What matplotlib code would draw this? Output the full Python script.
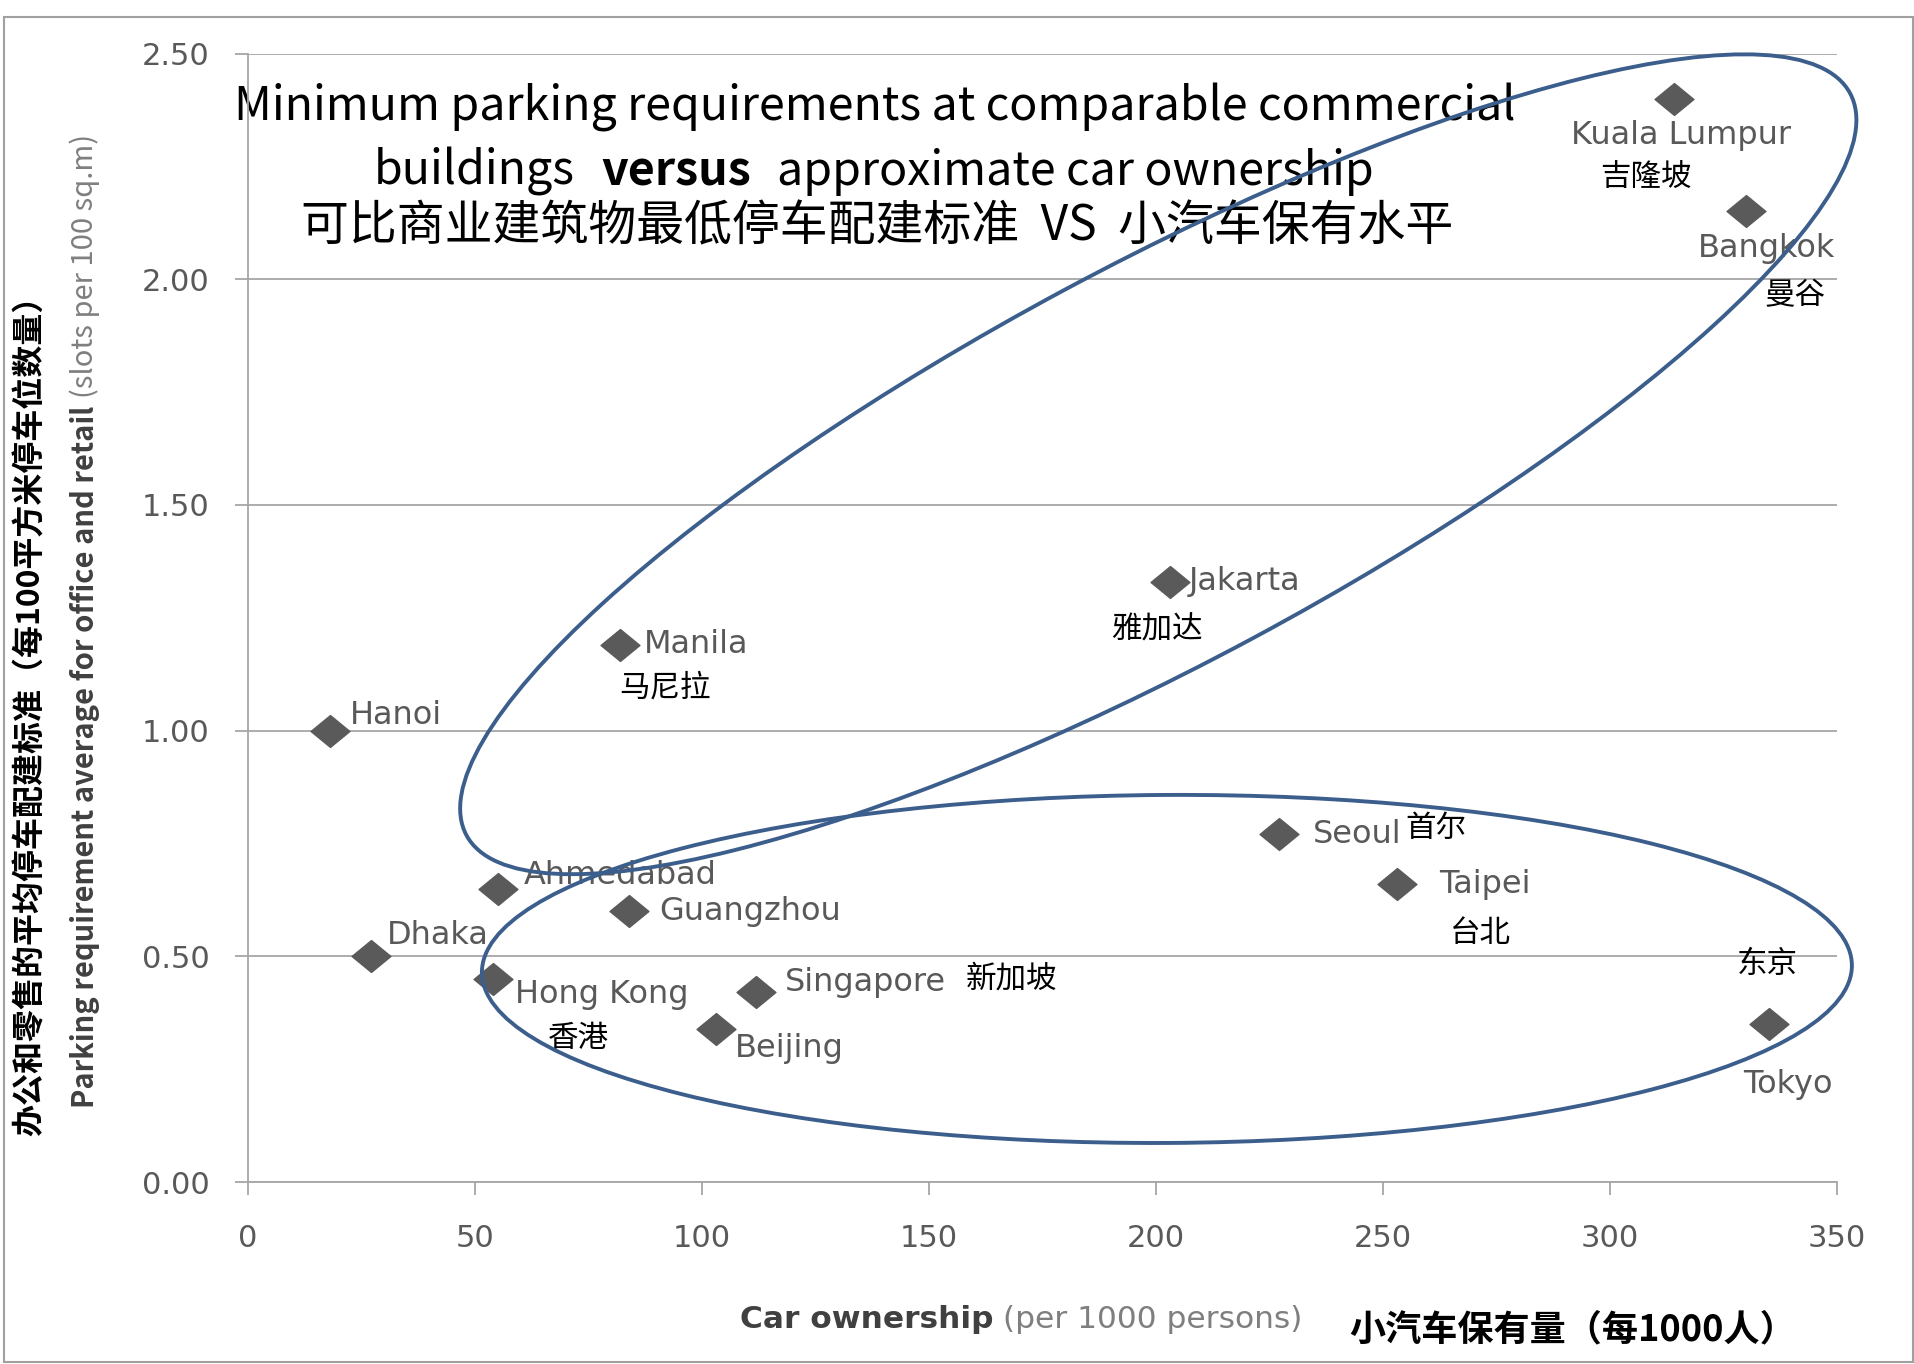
import matplotlib
matplotlib.use('Agg')
import matplotlib.pyplot as plt
import matplotlib.transforms as mtransforms
from matplotlib.patches import Ellipse, Rectangle
from matplotlib.path import Path

plt.rcParams['font.family'] = ['DejaVu Sans']
CJK = ['Noto Sans CJK SC', 'DejaVu Sans']

# Car ownership (per 1000 persons) vs parking slots per 100 sq.m
cities = ['Hanoi', 'Dhaka', 'Ahmedabad', 'Hong Kong', 'Guangzhou', 'Manila',
          'Beijing', 'Singapore', 'Jakarta', 'Seoul', 'Taipei',
          'Kuala Lumpur', 'Bangkok', 'Tokyo']
cities_cn = ['', '', '', '香港', '', '马尼拉', '', '新加坡', '雅加达',
             '首尔', '台北', '吉隆坡', '曼谷', '东京']
car_ownership = [18, 27, 55, 54, 84, 82, 103, 112, 203, 227, 253, 314, 330, 335]
parking = [1.00, 0.50, 0.65, 0.45, 0.60, 1.19, 0.34, 0.42, 1.33, 0.77, 0.66,
           2.40, 2.15, 0.35]

x_ticks = [0, 50, 100, 150, 200, 250, 300, 350]
y_ticks = [0.0, 0.5, 1.0, 1.5, 2.0, 2.5]

# label offsets in pixels (right, down) from each marker
en_offsets = [(20, -15), (16, -21), (26, -13), (22, 16), (30, 0), (24, 0),
              (19, 20), (28, -10), (19, 0), (34, 0), (43, 0),
              (8, 37), (20, 37), (19, 60)]
en_align = ['left'] * 11 + ['center'] * 3
cn_offsets = [None, None, None, (85, 60), None, (45, 43), None, (255, -13),
              (-13, 48), (157, -6), (84, 49), (-28, 79), (49, 84), (-2, -60)]

W, H = 1915, 1364
GRID = '#a6a6a6'
LABEL = '#595959'
RING = '#3b5e8c'

fig = plt.figure(figsize=(W / 100, H / 100), dpi=100)
ax = fig.add_axes([248 / W, 1 - 1182 / H, (1837 - 248) / W, (1182 - 53.5) / H])

# diamond marker, a little wider than tall
diamond = Path([(-1, 0), (0, 0.82), (1, 0), (0, -0.82), (-1, 0)],
               [Path.MOVETO, Path.LINETO, Path.LINETO, Path.LINETO, Path.CLOSEPOLY])
ax.plot(car_ownership, parking, ls='none', marker=diamond, ms=28,
        color='#5a5a5a', zorder=3)

for i, name in enumerate(cities):
    dx, dy = en_offsets[i]
    ax.annotate(name, (car_ownership[i], parking[i]), xytext=(dx, -dy),
                textcoords='offset pixels', ha=en_align[i], va='center',
                fontsize=23, color=LABEL, zorder=4)
    if cn_offsets[i] is not None:
        dx, dy = cn_offsets[i]
        ax.annotate(cities_cn[i], (car_ownership[i], parking[i]), xytext=(dx, -dy),
                    textcoords='offset pixels', ha='center', va='center',
                    fontsize=22, family=CJK, color='black', zorder=4)

# the two groupings, sized in inches and centred in data units
def ring(cx, cy, a, b, angle):
    tr = fig.dpi_scale_trans + mtransforms.ScaledTranslation(cx, cy, ax.transData)
    e = Ellipse((0, 0), 2 * a, 2 * b, angle=angle, transform=tr, fill=False,
                ec=RING, lw=2.8, zorder=5, clip_on=False)
    ax.add_patch(e)

ring(200.5, 1.590, 7.85, 1.98, 28.2)
ring(202.4, 0.472, 6.85, 1.74, 0.3)

ax.set_xlim(0, 350)
ax.set_ylim(0, 2.5)
ax.set_xticks(x_ticks)
ax.set_yticks(y_ticks)
ax.set_yticklabels([f'{v:.2f}' for v in y_ticks])
ax.grid(axis='y', color=GRID, lw=1.3)
ax.set_axisbelow(True)
for s in ['top', 'right']:
    ax.spines[s].set_visible(False)
for s in ['left', 'bottom']:
    ax.spines[s].set_color(GRID)
    ax.spines[s].set_linewidth(1.3)
ax.tick_params(axis='y', length=9.5, width=1.3, color=GRID, pad=18,
               labelsize=22, labelcolor=LABEL)
ax.tick_params(axis='x', length=9, width=1.3, color=GRID, pad=21,
               labelsize=22, labelcolor=LABEL)


def run(parts, x, y, gap, rotation=0):
    # lay text pieces end to end, centred on (x, y) in pixels from the top-left
    texts = [ax.text(0, 0, s, transform=fig.transFigure, rotation=rotation,
                     clip_on=False, zorder=2, **kw) for s, kw in parts]
    fig.canvas.draw()
    r = fig.canvas.get_renderer()
    boxes = [t.get_window_extent(r) for t in texts]
    if rotation == 0:
        total = sum(b.width for b in boxes) + gap * (len(texts) - 1)
        cur = x - total / 2
        for t, b in zip(texts, boxes):
            t.set_ha('left')
            t.set_va('baseline')
            t.set_position((cur / W, 1 - y / H))
            cur += b.width + gap
    else:
        total = sum(b.height for b in boxes) + gap * (len(texts) - 1)
        cur = (H - y) - total / 2
        for t, b in zip(texts, boxes):
            t.set_ha('center')
            t.set_va('bottom')
            t.set_position((x / W, cur / H))
            cur += b.height + gap


title_kw = dict(fontsize=33.5, family=CJK, color='black')
ax.text(875 / W, 1 - 120 / H,
        'Minimum parking requirements at comparable commercial',
        transform=fig.transFigure, ha='center', va='baseline', clip_on=False,
        zorder=2, **title_kw)
run([('buildings', title_kw),
     ('versus', dict(title_kw, fontweight='bold')),
     ('approximate car ownership', title_kw)], 874, 185, 26)
ax.text(877 / W, 1 - 240 / H, '可比商业建筑物最低停车配建标准  VS  小汽车保有水平',
        transform=fig.transFigure, ha='center', va='baseline', clip_on=False,
        zorder=2, **dict(title_kw, fontsize=34.5))

# axis titles
run([('Car ownership', dict(fontsize=22.5, fontweight='bold', color='#404040')),
     ('(per 1000 persons)', dict(fontsize=22.5, color='#7f7f7f'))], 1021, 1328, 10)
fig.text(1573 / W, 1 - 1330 / H, '小汽车保有量（每1000人）', ha='center',
         va='center', fontsize=26, fontweight='bold', family=CJK, color='black')

run([('Parking requirement average for office and retail',
      dict(fontsize=21, fontweight='bold', family=CJK, color='#404040')),
     ('(slots per 100 sq.m)', dict(fontsize=21, family=CJK, color='#7f7f7f'))],
    85, 621, 8, rotation=90)
fig.text(31 / W, 1 - 708 / H, '办公和零售的平均停车配建标准（每100平方米停车位数量）',
         rotation=90, ha='center', va='center', fontsize=23, fontweight='bold',
         family=CJK, color='black')

# outer chart frame
fig.add_artist(Rectangle((4 / W, 1 - 1362 / H), (1913 - 4) / W, (1362 - 17) / H,
                         transform=fig.transFigure, fill=False, ec='#a0a0a0', lw=1.5))

fig.savefig('out.png', dpi=100)
